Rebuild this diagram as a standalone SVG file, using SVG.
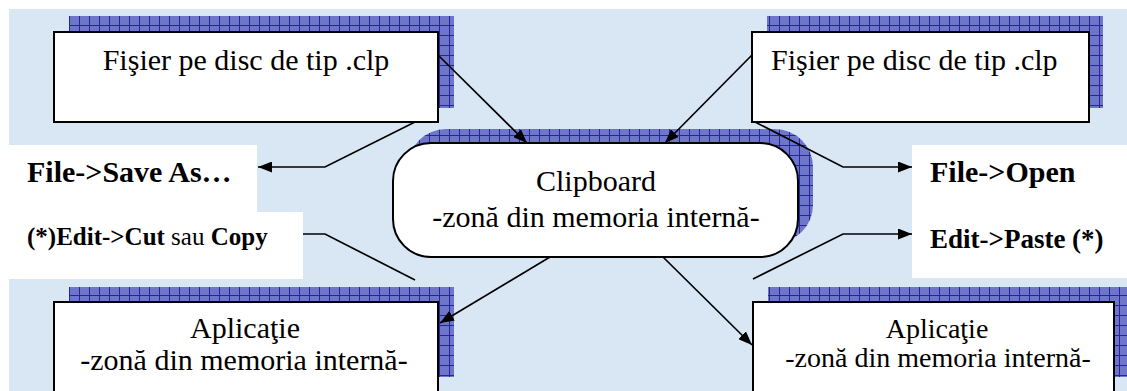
<svg xmlns="http://www.w3.org/2000/svg" width="1127" height="391" viewBox="0 0 1127 391">
<defs>
<pattern id="grid" width="10" height="10" patternUnits="userSpaceOnUse" x="9" y="5">
<rect width="10" height="10" fill="#6e76c9"/>
<path d="M0 0.5H10M0.5 0V10" stroke="#25259a" stroke-width="1"/>
</pattern>
<marker id="ah" markerUnits="userSpaceOnUse" markerWidth="15" markerHeight="11" refX="14" refY="5.5" orient="auto">
<path d="M0 0L14 5.5L0 11z" fill="#000"/>
</marker>
</defs>
<style>
text{font-family:'Liberation Serif','Times New Roman','DejaVu Serif',serif;fill:#000}
.box{fill:#fff;stroke:#000;stroke-width:2}
.sh{fill:url(#grid)}
.lab{fill:#fff}
.c{fill:none;stroke:#000;stroke-width:1.7}
.b{font-weight:bold}
</style>
<rect x="0" y="0" width="1127" height="391" fill="#fff"/>
<rect x="9" y="9" width="1118" height="382" fill="#d9e6f4"/>
<g id="labels-left">
<rect class="lab" x="0" y="145" width="257" height="67"/>
<rect class="lab" x="0" y="212" width="303" height="67"/>
<text class="b" x="27" y="182" font-size="30">File-&gt;Save As…</text>
<text x="27" y="245" font-size="25"><tspan class="b">(*)Edit-&gt;Cut</tspan> sau <tspan class="b">Copy</tspan></text>
</g>
<g id="labels-right">
<rect class="lab" x="912" y="145" width="215" height="133"/>
<text class="b" x="930" y="182" font-size="30">File-&gt;Open</text>
<text class="b" x="930" y="248" font-size="27">Edit-&gt;Paste (*)</text>
</g>
<g id="file-left">
<rect class="sh" x="69" y="16" width="385" height="92"/>
<rect class="box" x="54" y="32" width="384" height="90"/>
<text x="246" y="70" font-size="30" text-anchor="middle">Fişier pe disc de tip .clp</text>
</g>
<g id="file-right">
<rect class="sh" x="767" y="16" width="336" height="92"/>
<rect class="box" x="752" y="32" width="337" height="90"/>
<text x="771" y="70" font-size="30">Fişier pe disc de tip .clp</text>
</g>
<g id="clipboard">
<rect class="sh" x="408" y="129" width="405" height="114" rx="38"/>
<rect class="box" x="393" y="143" width="405" height="114" rx="38"/>
<text x="596" y="191" font-size="30" text-anchor="middle">Clipboard</text>
<text x="596" y="227" font-size="30" text-anchor="middle">-zonă din memoria internă-</text>
</g>
<g id="app-left">
<rect class="sh" x="69" y="287" width="385" height="90"/>
<rect class="box" x="54" y="302" width="384" height="100"/>
<text x="245" y="338" font-size="30" text-anchor="middle">Aplicaţie</text>
<text x="244" y="370" font-size="30" text-anchor="middle">-zonă din memoria internă-</text>
</g>
<g id="app-right">
<rect class="sh" x="768" y="287" width="370" height="90"/>
<rect class="box" x="753" y="302" width="361" height="100"/>
<text x="937" y="338" font-size="28" text-anchor="middle">Aplicaţie</text>
<text x="938" y="367" font-size="28" text-anchor="middle">-zonă din memoria internă-</text>
</g>
<g id="connectors">
<path class="c" d="M438 55L527 143" marker-end="url(#ah)"/>
<path class="c" d="M752 55L665 143" marker-end="url(#ah)"/>
<path class="c" d="M415 122L325 167L258 167" marker-end="url(#ah)"/>
<path class="c" d="M755 122L843 167L912 167" marker-end="url(#ah)"/>
<path class="c" d="M303 234L325 234L415 280"/>
<path class="c" d="M753 279L843 234L912 234" marker-end="url(#ah)"/>
<path class="c" d="M550 257L440 323" marker-end="url(#ah)"/>
<path class="c" d="M663 257L752 345" marker-end="url(#ah)"/>
</g>
</svg>
